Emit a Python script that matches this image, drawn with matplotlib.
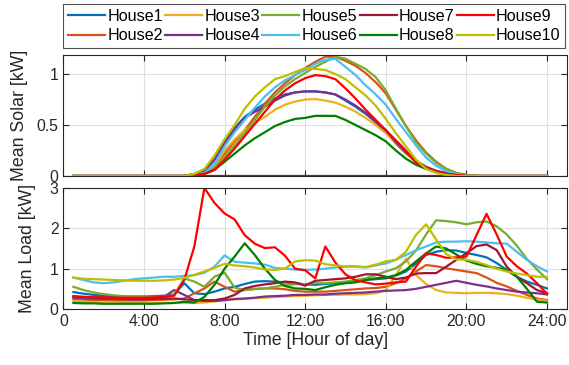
import matplotlib
matplotlib.use('Agg')
import matplotlib.pyplot as plt

plt.rcParams['font.family'] = ['Liberation Sans', 'DejaVu Sans']

# half-hour time steps [h]
hours = [0.5, 1.0, 1.5, 2.0, 2.5, 3.0, 3.5, 4.0, 4.5, 5.0, 5.5, 6.0,
         6.5, 7.0, 7.5, 8.0, 8.5, 9.0, 9.5, 10.0, 10.5, 11.0, 11.5, 12.0,
         12.5, 13.0, 13.5, 14.0, 14.5, 15.0, 15.5, 16.0, 16.5, 17.0, 17.5, 18.0,
         18.5, 19.0, 19.5, 20.0, 20.5, 21.0, 21.5, 22.0, 22.5, 23.0, 23.5, 24.0]

houses = ['House1', 'House2', 'House3', 'House4', 'House5',
          'House6', 'House7', 'House8', 'House9', 'House10']
colors = ['#0072BD', '#D95319', '#EDB120', '#7E2F8E', '#77AC30',
          '#4DBEEE', '#A2142F', '#008000', '#FF0000', '#BFBF00']

xticks = [0, 4, 8, 12, 16, 20, 24]
xticklabels = ['0', '4:00', '8:00', '12:00', '16:00', '20:00', '24:00']

# mean solar [kW]
solar_h1 = [0, 0, 0, 0, 0, 0, 0, 0, 0, 0, 0, 0.0,
            0.02, 0.06, 0.16, 0.34, 0.47, 0.58, 0.65, 0.71, 0.76, 0.80, 0.82, 0.83,
            0.83, 0.82, 0.80, 0.74, 0.68, 0.61, 0.53, 0.44, 0.32, 0.22, 0.14, 0.08,
            0.05, 0.03, 0.01, 0, 0, 0, 0, 0, 0, 0, 0, 0]
solar_h2 = [0, 0, 0, 0, 0, 0, 0, 0, 0, 0, 0, 0.0,
            0.01, 0.03, 0.09, 0.22, 0.34, 0.45, 0.58, 0.71, 0.82, 0.91, 0.99, 1.06,
            1.12, 1.17, 1.17, 1.13, 1.08, 1.01, 0.92, 0.81, 0.65, 0.49, 0.35, 0.23,
            0.14, 0.07, 0.03, 0.01, 0, 0, 0, 0, 0, 0, 0, 0]
solar_h3 = [0, 0, 0, 0, 0, 0, 0, 0, 0, 0, 0, 0.0,
            0.01, 0.03, 0.10, 0.25, 0.36, 0.45, 0.52, 0.58, 0.65, 0.70, 0.73, 0.75,
            0.755, 0.74, 0.72, 0.68, 0.63, 0.57, 0.50, 0.42, 0.32, 0.22, 0.14, 0.09,
            0.05, 0.02, 0.01, 0, 0, 0, 0, 0, 0, 0, 0, 0]
solar_h4 = [0, 0, 0, 0, 0, 0, 0, 0, 0, 0, 0, 0.0,
            0.02, 0.05, 0.16, 0.32, 0.46, 0.57, 0.63, 0.68, 0.74, 0.79, 0.82, 0.83,
            0.83, 0.82, 0.80, 0.75, 0.69, 0.62, 0.53, 0.45, 0.33, 0.23, 0.15, 0.09,
            0.05, 0.03, 0.01, 0, 0, 0, 0, 0, 0, 0, 0, 0]
solar_h5 = [0, 0, 0, 0, 0, 0, 0, 0, 0, 0, 0, 0.0,
            0.01, 0.03, 0.08, 0.19, 0.30, 0.42, 0.55, 0.68, 0.79, 0.88, 0.95, 1.01,
            1.07, 1.12, 1.17, 1.15, 1.10, 1.05, 0.97, 0.84, 0.66, 0.49, 0.33, 0.22,
            0.13, 0.07, 0.03, 0.01, 0, 0, 0, 0, 0, 0, 0, 0]
solar_h6 = [0, 0, 0, 0, 0, 0, 0, 0, 0, 0, 0, 0.0,
            0.01, 0.03, 0.12, 0.29, 0.43, 0.55, 0.67, 0.78, 0.87, 0.94, 0.99, 1.04,
            1.10, 1.14, 1.15, 1.07, 0.99, 0.89, 0.80, 0.70, 0.56, 0.43, 0.30, 0.18,
            0.10, 0.05, 0.02, 0, 0, 0, 0, 0, 0, 0, 0, 0]
solar_h7 = [0, 0, 0, 0, 0, 0, 0, 0, 0, 0, 0, 0,
            0, 0, 0, 0, 0, 0, 0, 0, 0, 0, 0, 0,
            0, 0, 0, 0, 0, 0, 0, 0, 0, 0, 0, 0,
            0, 0, 0, 0, 0, 0, 0, 0, 0, 0, 0, 0]
solar_h8 = [0, 0, 0, 0, 0, 0, 0, 0, 0, 0, 0, 0.0,
            0.01, 0.02, 0.06, 0.14, 0.22, 0.30, 0.37, 0.43, 0.49, 0.53, 0.56, 0.57,
            0.59, 0.59, 0.59, 0.55, 0.50, 0.45, 0.40, 0.34, 0.25, 0.17, 0.11, 0.07,
            0.04, 0.02, 0.01, 0, 0, 0, 0, 0, 0, 0, 0, 0]
solar_h9 = [0, 0, 0, 0, 0, 0, 0, 0, 0, 0, 0, 0.0,
            0.01, 0.02, 0.06, 0.16, 0.27, 0.39, 0.51, 0.63, 0.75, 0.84, 0.91, 0.96,
            0.99, 0.98, 0.95, 0.86, 0.76, 0.65, 0.55, 0.45, 0.35, 0.25, 0.13, 0.08,
            0.04, 0.02, 0.01, 0, 0, 0, 0, 0, 0, 0, 0, 0]
solar_h10 = [0, 0, 0, 0, 0, 0, 0, 0, 0, 0, 0, 0.0,
             0.02, 0.07, 0.20, 0.36, 0.50, 0.66, 0.78, 0.87, 0.95, 0.98, 1.02, 1.06,
             1.05, 1.04, 1.00, 0.95, 0.87, 0.79, 0.69, 0.56, 0.42, 0.29, 0.16, 0.07,
             0.03, 0.01, 0, 0, 0, 0, 0, 0, 0, 0, 0, 0]

# mean load [kW]
load_h1 = [0.42, 0.38, 0.35, 0.33, 0.32, 0.31, 0.31, 0.31, 0.32, 0.33, 0.36, 0.64,
           0.39, 0.37, 0.43, 0.51, 0.55, 0.62, 0.68, 0.69, 0.68, 0.66, 0.64, 0.61,
           0.60, 0.62, 0.64, 0.66, 0.68, 0.72, 0.74, 0.76, 0.83, 0.93, 1.13, 1.34,
           1.42, 1.46, 1.45, 1.39, 1.34, 1.28, 1.14, 0.97, 0.80, 0.68, 0.60, 0.51]
load_h2 = [0.24, 0.23, 0.22, 0.22, 0.21, 0.21, 0.21, 0.21, 0.22, 0.23, 0.24, 0.26,
           0.39, 0.51, 0.68, 0.55, 0.43, 0.47, 0.50, 0.51, 0.51, 0.49, 0.45, 0.43,
           0.43, 0.43, 0.45, 0.47, 0.49, 0.51, 0.52, 0.55, 0.64, 0.76, 0.93, 1.09,
           1.06, 1.01, 0.97, 0.93, 0.89, 0.78, 0.65, 0.56, 0.45, 0.35, 0.26, 0.22]
load_h3 = [0.20, 0.18, 0.17, 0.16, 0.16, 0.15, 0.15, 0.15, 0.15, 0.15, 0.15, 0.15,
           0.15, 0.16, 0.19, 0.22, 0.24, 0.25, 0.27, 0.28, 0.30, 0.31, 0.32, 0.33,
           0.34, 0.35, 0.35, 0.36, 0.36, 0.37, 0.39, 0.47, 0.84, 1.25, 0.84, 0.62,
           0.47, 0.41, 0.40, 0.39, 0.40, 0.40, 0.39, 0.37, 0.33, 0.28, 0.23, 0.20]
load_h4 = [0.28, 0.27, 0.26, 0.25, 0.25, 0.24, 0.24, 0.24, 0.25, 0.30, 0.47, 0.35,
           0.22, 0.20, 0.20, 0.22, 0.25, 0.26, 0.28, 0.31, 0.32, 0.33, 0.35, 0.35,
           0.36, 0.36, 0.38, 0.39, 0.40, 0.41, 0.43, 0.45, 0.46, 0.47, 0.50, 0.55,
           0.60, 0.65, 0.70, 0.65, 0.60, 0.56, 0.51, 0.47, 0.43, 0.41, 0.39, 0.36]
load_h5 = [0.55, 0.47, 0.41, 0.37, 0.34, 0.32, 0.31, 0.31, 0.30, 0.30, 0.35, 0.76,
           0.68, 0.55, 0.80, 0.90, 0.53, 0.47, 0.49, 0.51, 0.55, 0.60, 0.61, 0.62,
           0.64, 0.64, 0.66, 0.68, 0.72, 0.76, 0.84, 0.93, 1.01, 1.18, 1.45, 1.85,
           2.20, 2.18, 2.15, 2.10, 2.15, 2.17, 2.05, 1.85, 1.57, 1.24, 0.98, 0.74]
load_h6 = [0.78, 0.72, 0.66, 0.64, 0.66, 0.70, 0.74, 0.76, 0.78, 0.80, 0.80, 0.82,
           0.84, 0.90, 1.05, 1.33, 1.17, 1.15, 1.13, 1.10, 1.02, 1.00, 0.98, 0.97,
           0.98, 1.00, 1.03, 1.05, 1.05, 1.03, 1.08, 1.13, 1.22, 1.34, 1.46, 1.55,
           1.65, 1.67, 1.67, 1.68, 1.67, 1.65, 1.63, 1.62, 1.42, 1.22, 1.06, 0.93]
load_h7 = [0.32, 0.30, 0.29, 0.28, 0.27, 0.27, 0.26, 0.26, 0.26, 0.26, 0.26, 0.24,
           0.22, 0.22, 0.22, 0.26, 0.35, 0.51, 0.57, 0.61, 0.64, 0.68, 0.66, 0.58,
           0.70, 0.72, 0.74, 0.76, 0.80, 0.86, 0.86, 0.80, 0.74, 0.78, 0.88, 0.89,
           0.89, 1.05, 1.22, 1.38, 1.56, 1.60, 1.46, 1.05, 0.80, 0.64, 0.47, 0.39]
load_h8 = [0.15, 0.14, 0.14, 0.13, 0.13, 0.13, 0.13, 0.13, 0.13, 0.14, 0.15, 0.18,
           0.16, 0.30, 0.60, 1.00, 1.30, 1.63, 1.34, 1.00, 0.72, 0.57, 0.51, 0.50,
           0.47, 0.54, 0.60, 0.64, 0.66, 0.72, 0.76, 0.78, 0.84, 0.97, 1.18, 1.38,
           1.55, 1.50, 1.35, 1.20, 1.12, 1.06, 1.02, 0.97, 0.80, 0.50, 0.18, 0.16]
load_h9 = [0.30, 0.30, 0.29, 0.29, 0.28, 0.28, 0.28, 0.28, 0.29, 0.30, 0.33, 0.72,
           1.55, 3.00, 2.63, 2.37, 2.22, 1.83, 1.62, 1.51, 1.53, 1.32, 1.00, 0.96,
           0.76, 1.55, 1.15, 0.86, 0.71, 0.66, 0.61, 0.63, 0.66, 0.68, 1.05, 1.38,
           1.34, 1.27, 1.28, 1.30, 1.83, 2.36, 1.85, 1.30, 1.06, 0.88, 0.64, 0.38]
load_h10 = [0.78, 0.75, 0.74, 0.73, 0.72, 0.71, 0.70, 0.70, 0.70, 0.71, 0.73, 0.77,
            0.85, 0.93, 1.02, 1.12, 1.08, 1.06, 1.03, 0.98, 0.97, 1.00, 1.18, 1.21,
            1.20, 1.11, 1.08, 1.06, 1.06, 1.04, 1.10, 1.18, 1.22, 1.42, 1.84, 2.10,
            1.72, 1.36, 1.23, 1.22, 1.17, 1.09, 1.00, 0.93, 0.88, 0.84, 0.80, 0.80]

solar = [solar_h1, solar_h2, solar_h3, solar_h4, solar_h5,
         solar_h6, solar_h7, solar_h8, solar_h9, solar_h10]
load = [load_h1, load_h2, load_h3, load_h4, load_h5,
        load_h6, load_h7, load_h8, load_h9, load_h10]

txt = '#262626'

fig = plt.figure(figsize=(5.69, 3.65), dpi=100)
ax1 = fig.add_axes([0.1113, 0.5178, 0.8855, 0.3323])
ax2 = fig.add_axes([0.1113, 0.1534, 0.8855, 0.3315])

for i in range(len(houses)):
    ax1.plot(hours, solar[i], color=colors[i], lw=1.6, label=houses[i])
    ax2.plot(hours, load[i], color=colors[i], lw=1.6)

for ax in (ax1, ax2):
    ax.set_xlim(0, 25)
    ax.set_xticks(xticks)
    ax.grid(True, color='#dfdfdf', lw=0.8)
    ax.set_axisbelow(True)
    ax.tick_params(direction='in', top=True, right=True, length=4,
                   labelsize=11.3, colors=txt, width=0.8)
    for s in ax.spines.values():
        s.set_color(txt)
        s.set_linewidth(0.8)

ax1.set_ylim(0, 1.19)
ax1.set_yticks([0, 0.5, 1])
ax1.set_yticklabels(['0', '0.5', '1'])
ax1.set_xticklabels([])
ax1.set_ylabel('Mean Solar [kW]', fontsize=12.8, color=txt, labelpad=6)

ax2.set_ylim(0, 3)
ax2.set_yticks([0, 1, 2, 3])
ax2.set_xticklabels(xticklabels)
ax2.set_ylabel('Mean Load [kW]', fontsize=12.8, color=txt, labelpad=10)
ax2.set_xlabel('Time [Hour of day]', fontsize=12.8, color=txt, labelpad=2)

fig.align_ylabels([ax1, ax2])

leg = ax1.legend(ncol=5, loc='lower left', bbox_to_anchor=(0, 1.055, 0.996, 0.3),
                 mode='expand', borderaxespad=0, fontsize=11.6, handlelength=2.3,
                 handletextpad=0.12, columnspacing=0.1, labelspacing=0.28,
                 fancybox=False, edgecolor=txt, borderpad=0.3)
leg.get_frame().set_linewidth(0.8)
for t in leg.get_texts():
    t.set_color('black')

fig.savefig('out.png', dpi=100)
